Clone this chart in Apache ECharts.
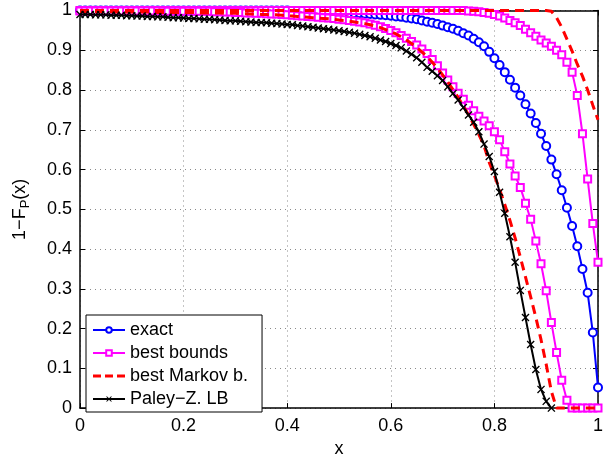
<!DOCTYPE html>
<html>
<head>
<meta charset="utf-8">
<script src="https://cdn.jsdelivr.net/npm/echarts@6/dist/echarts.min.js"></script>
<style>
html,body{margin:0;padding:0;background:#fff;}
#chart{width:613px;height:463px;}
</style>
</head>
<body>
<div id="chart"></div>
<script>
// x grid
const xValues = [
0.00,0.01,0.02,0.03,0.04,0.05,0.06,0.07,0.08,0.09,
0.10,0.11,0.12,0.13,0.14,0.15,0.16,0.17,0.18,0.19,
0.20,0.21,0.22,0.23,0.24,0.25,0.26,0.27,0.28,0.29,
0.30,0.31,0.32,0.33,0.34,0.35,0.36,0.37,0.38,0.39,
0.40,0.41,0.42,0.43,0.44,0.45,0.46,0.47,0.48,0.49,
0.50,0.51,0.52,0.53,0.54,0.55,0.56,0.57,0.58,0.59,
0.60,0.61,0.62,0.63,0.64,0.65,0.66,0.67,0.68,0.69,
0.70,0.71,0.72,0.73,0.74,0.75,0.76,0.77,0.78,0.79,
0.80,0.81,0.82,0.83,0.84,0.85,0.86,0.87,0.88,0.89,
0.90,0.91,0.92,0.93,0.94,0.95,0.96,0.97,0.98,0.99,
1.00];

const exact = [
1,1,1,1,1,1,1,1,1,1,
1,1,1,1,1,1,1,1,1,1,
1,1,1,1,1,1,1,1,1,1,
1,1,1,1,1,1,1,1,1,1,
1,0.999,0.999,0.998,0.998,0.997,0.997,0.996,0.996,0.995,
0.995,0.994,0.994,0.993,0.993,0.992,0.991,0.990,0.989,0.988,
0.987,0.985,0.984,0.982,0.980,0.978,0.975,0.972,0.969,0.966,
0.962,0.958,0.954,0.949,0.943,0.937,0.929,0.920,0.910,0.896,
0.880,0.863,0.845,0.826,0.806,0.786,0.764,0.741,0.717,0.690,
0.659,0.625,0.588,0.548,0.504,0.458,0.407,0.350,0.290,0.190,
0.052];

const bestUpper = [
1,1,1,1,1,1,1,1,1,1,
1,1,1,1,1,1,1,1,1,1,
1,1,1,1,1,1,1,1,1,1,
1,1,1,1,1,1,1,1,1,1,
1,1,1,1,1,1,1,1,1,1,
1,1,1,1,1,1,1,1,1,1,
1,1,1,1,1,1,1,1,1,1,
1,1,1,1,1,0.999,0.998,0.997,0.995,0.993,
0.990,0.986,0.981,0.975,0.969,0.962,0.953,0.944,0.935,0.926,
0.918,0.910,0.900,0.889,0.870,0.845,0.786,0.690,0.576,0.464,
0.367];

const bestLower = [
0.999,0.999,0.999,0.999,0.999,0.999,0.999,0.999,0.999,0.999,
0.999,0.999,0.999,0.999,0.999,0.999,0.998,0.998,0.998,0.998,
0.998,0.998,0.998,0.998,0.998,0.998,0.997,0.997,0.996,0.996,
0.995,0.995,0.994,0.994,0.993,0.993,0.992,0.991,0.991,0.990,
0.989,0.988,0.987,0.986,0.985,0.984,0.983,0.982,0.981,0.980,
0.978,0.977,0.975,0.973,0.971,0.969,0.966,0.963,0.959,0.955,
0.950,0.944,0.937,0.930,0.922,0.913,0.903,0.892,0.877,0.861,
0.843,0.825,0.808,0.792,0.777,0.762,0.748,0.734,0.722,0.710,
0.695,0.675,0.645,0.614,0.584,0.555,0.515,0.475,0.420,0.363,
0.295,0.215,0.140,0.070,0.020,0,0,0,0,0,
0];

const markovUpper = [
1,1,1,1,1,1,1,1,1,1,
1,1,1,1,1,1,1,1,1,1,
1,1,1,1,1,1,1,1,1,1,
1,1,1,1,1,1,1,1,1,1,
1,1,1,1,1,1,1,1,1,1,
1,1,1,1,1,1,1,1,1,1,
1,1,1,1,1,1,1,1,1,1,
1,1,1,1,1,1,1,1,1,1,
1,1,1,1,1,1,1,1,1,1,
1,0.998,0.982,0.958,0.928,0.898,0.865,0.835,0.800,0.762,
0.725];

const markovLower = [
0.997,0.997,0.997,0.997,0.997,0.997,0.997,0.996,0.996,0.996,
0.996,0.996,0.996,0.996,0.996,0.995,0.995,0.995,0.995,0.995,
0.995,0.995,0.995,0.994,0.994,0.994,0.994,0.994,0.993,0.993,
0.993,0.992,0.992,0.991,0.991,0.990,0.990,0.989,0.989,0.988,
0.987,0.986,0.985,0.984,0.983,0.982,0.981,0.980,0.979,0.978,
0.976,0.975,0.973,0.971,0.969,0.967,0.964,0.961,0.957,0.952,
0.947,0.941,0.934,0.926,0.917,0.907,0.896,0.884,0.870,0.855,
0.838,0.820,0.801,0.781,0.760,0.738,0.714,0.688,0.660,0.618,
0.585,0.550,0.512,0.472,0.428,0.380,0.330,0.280,0.228,0.172,
0.110,0.042,0,0,0,0,0,0,0,0,
0];

const paleyLB = [
0.990,0.990,0.990,0.989,0.989,0.989,0.988,0.988,0.988,0.987,
0.987,0.986,0.986,0.985,0.985,0.984,0.984,0.983,0.982,0.982,
0.981,0.980,0.980,0.979,0.978,0.978,0.977,0.976,0.975,0.974,
0.974,0.973,0.972,0.971,0.970,0.970,0.969,0.968,0.967,0.966,
0.965,0.964,0.962,0.961,0.959,0.958,0.956,0.954,0.953,0.951,
0.949,0.947,0.945,0.943,0.940,0.937,0.934,0.930,0.926,0.922,
0.917,0.912,0.906,0.898,0.890,0.881,0.870,0.857,0.847,0.836,
0.824,0.808,0.791,0.775,0.756,0.737,0.719,0.695,0.664,0.633,
0.595,0.543,0.490,0.431,0.367,0.296,0.228,0.160,0.097,0.047,
0.017,0.000];

const xTicks = [0, 0.2, 0.4, 0.6, 0.8, 1];
const yTicks = [0, 0.1, 0.2, 0.3, 0.4, 0.5, 0.6, 0.7, 0.8, 0.9, 1];
const legendNames = ['exact', 'best bounds', 'best Markov b.', 'Paley\u2212Z. LB'];

function pairs(ys) { return ys.map((y, i) => [xValues[i], y]); }

const FONT = '"Liberation Sans", Arial, Helvetica, sans-serif';
const xMark = 'path://M0,1.2L1.2,0L5,3.8L8.8,0L10,1.2L6.2,5L10,8.8L8.8,10L5,6.2L1.2,10L0,8.8L3.8,5Z';
const dashIcon = 'path://M0,0H8V3H0ZM12,0H20V3H12ZM24,0H32V3H24Z';

const chart = echarts.init(document.getElementById('chart'), null, {renderer: 'canvas'});

const axisCommon = {
  min: 0, max: 1,
  axisLine: {show: true, onZero: false, lineStyle: {color: '#000', width: 1.5}},
  axisTick: {show: true, inside: true, length: 5, lineStyle: {color: '#000', width: 1}},
  splitLine: {show: false},
  axisLabel: {show: false}
};

chart.setOption({
  animation: false,
  backgroundColor: '#fff',
  textStyle: {fontFamily: FONT, color: '#000'},
  grid: {left: 80, right: 15, top: 10.5, bottom: 45, containLabel: false},
  legend: {
    data: [
      {name: legendNames[0]},
      {name: legendNames[1]},
      {name: legendNames[2], icon: dashIcon, itemStyle: {color: '#ff0000'}},
      {name: legendNames[3]}
    ],
    orient: 'vertical',
    left: 86, top: 315,
    padding: [6, 14, 4, 6],
    itemGap: 5,
    itemWidth: 32,
    itemHeight: 7,
    backgroundColor: '#fff',
    borderColor: '#000',
    borderWidth: 1,
    borderRadius: 0,
    textStyle: {fontFamily: FONT, fontSize: 18, color: '#000', padding: [0, 0, 0, 0]}
  },
  xAxis: [
    Object.assign({}, axisCommon, {
      type: 'value', position: 'bottom', interval: 0.2,
      axisLabel: {show: true, fontFamily: FONT, fontSize: 18, color: '#000', margin: 9,
        formatter: v => String(Math.round(v * 10) / 10)},
      splitLine: {show: true, lineStyle: {color: '#8a8a8a', width: 1, type: [1, 4]}},
      name: 'x', nameLocation: 'middle', nameGap: 28,
      nameTextStyle: {fontFamily: FONT, fontSize: 18, color: '#000'}
    }),
    Object.assign({}, axisCommon, {type: 'value', position: 'top', interval: 0.2})
  ],
  yAxis: [
    Object.assign({}, axisCommon, {
      type: 'value', position: 'left', interval: 0.1,
      axisLabel: {show: true, fontFamily: FONT, fontSize: 18, color: '#000', margin: 8,
        formatter: v => String(Math.round(v * 10) / 10)},
      splitLine: {show: true, lineStyle: {color: '#8a8a8a', width: 1, type: [1, 4]}},
      name: '{a|1\u2212F}{s|P}{a|(x)}', nameLocation: 'middle', nameGap: 48,
      nameTextStyle: {
        fontFamily: FONT, fontSize: 18, color: '#000',
        rich: {
          a: {fontFamily: FONT, fontSize: 18, color: '#000'},
          s: {fontFamily: FONT, fontSize: 13, color: '#000', padding: [10, 0, 0, 0]}
        }
      }
    }),
    Object.assign({}, axisCommon, {type: 'value', position: 'right', interval: 0.1})
  ],
  series: [
    {
      name: 'exact', type: 'line', z: 2, clip: false,
      data: pairs(exact),
      symbol: 'emptyCircle', symbolSize: 8,
      lineStyle: {color: '#0000ff', width: 2},
      itemStyle: {color: '#0000ff', borderColor: '#0000ff', borderWidth: 1.6}
    },
    {
      name: 'best bounds', type: 'line', z: 3, clip: false,
      data: pairs(bestUpper),
      symbol: 'emptyRect', symbolSize: 7,
      lineStyle: {color: '#ff00ff', width: 2},
      itemStyle: {color: '#ff00ff', borderColor: '#ff00ff', borderWidth: 1.6}
    },
    {
      name: 'best bounds', type: 'line', z: 3, clip: false,
      data: pairs(bestLower),
      symbol: 'emptyRect', symbolSize: 7,
      lineStyle: {color: '#ff00ff', width: 2},
      itemStyle: {color: '#ff00ff', borderColor: '#ff00ff', borderWidth: 1.6}
    },
    {
      name: 'best Markov b.', type: 'line', z: 4, clip: false,
      data: pairs(markovUpper),
      symbol: 'none',
      lineStyle: {color: '#ff0000', width: 3, type: [9, 6]},
      itemStyle: {color: '#ff0000'}
    },
    {
      name: 'best Markov b.', type: 'line', z: 4, clip: false,
      data: pairs(markovLower),
      symbol: 'none',
      lineStyle: {color: '#ff0000', width: 3, type: [9, 6]},
      itemStyle: {color: '#ff0000'}
    },
    {
      name: 'Paley\u2212Z. LB', type: 'line', z: 5, clip: false,
      data: pairs(paleyLB),
      symbol: xMark, symbolSize: 8,
      lineStyle: {color: '#000', width: 2},
      itemStyle: {color: '#000', borderWidth: 0}
    }
  ]
});
</script>
</body>
</html>
